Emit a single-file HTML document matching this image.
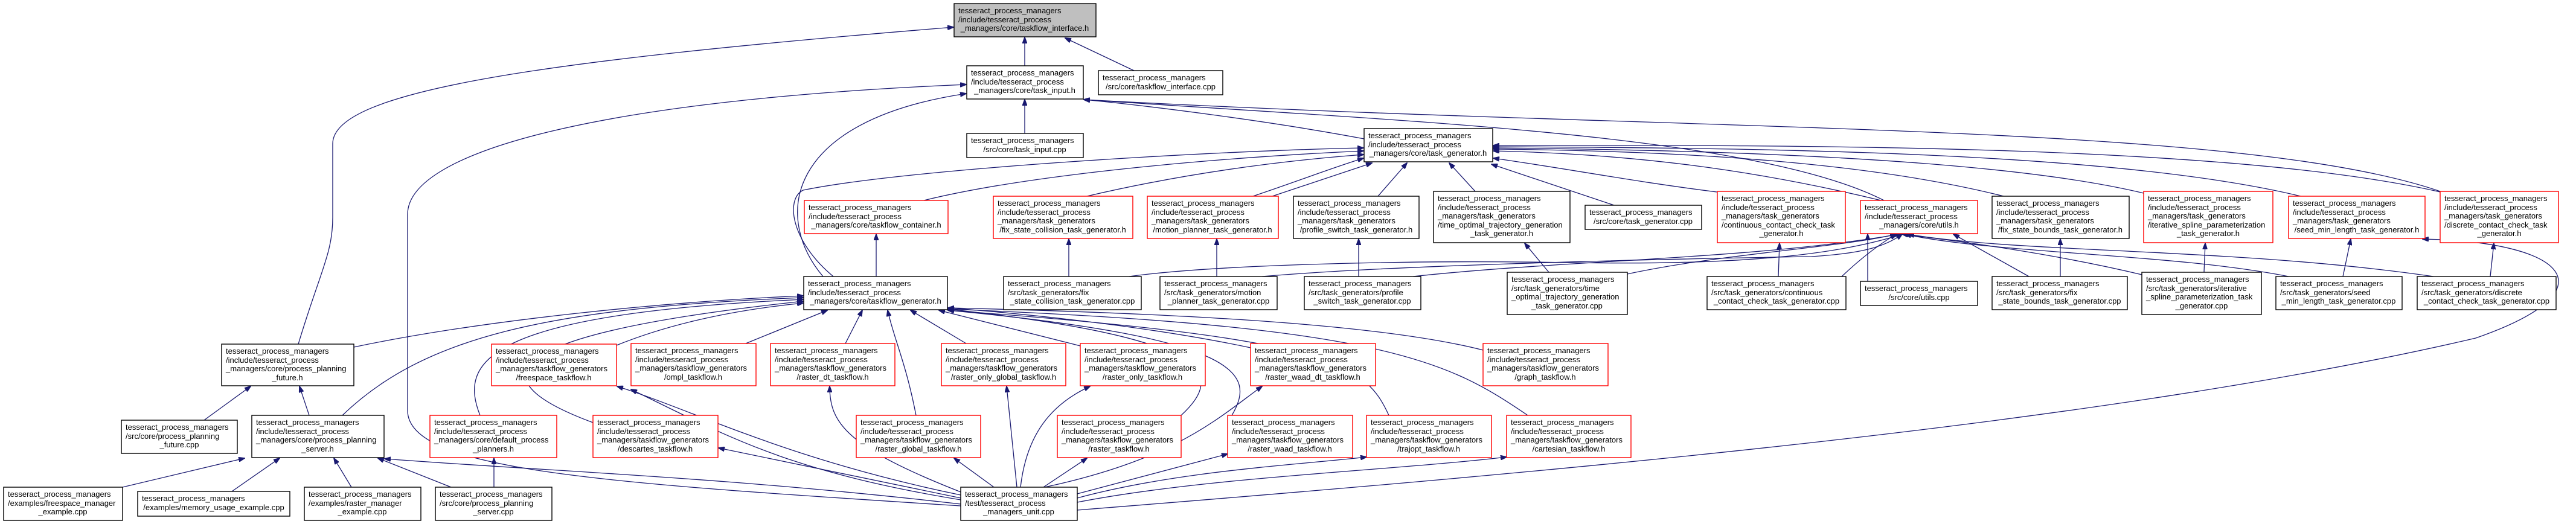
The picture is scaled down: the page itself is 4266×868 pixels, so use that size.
<!DOCTYPE html>
<html><head><meta charset="utf-8"><style>
html,body{margin:0;padding:0;background:#fff}
svg{display:block}
text{font-family:"Liberation Sans",sans-serif;font-size:13px;fill:#000}
.e{fill:none;stroke:#191970;stroke-width:1.3}
.b{fill:#fff;stroke:#000;stroke-width:1.4}
.r{fill:#fff;stroke:#ff0000;stroke-width:1.4}
.g{fill:#bfbfbf;stroke:#000;stroke-width:1.4}
</style></head><body>
<svg width="4266" height="868" viewBox="0 0 4266 868" xmlns="http://www.w3.org/2000/svg">
<defs><marker id="a" markerUnits="userSpaceOnUse" markerWidth="11" markerHeight="8" refX="10" refY="4" orient="auto"><path d="M0,0 L11,4 L0,8 z" fill="#191970" stroke="#191970"/></marker></defs>
<g class="e" marker-end="url(#a)">
<path d="M1697,109 L1697,62"/>
<path d="M1878,117 L1764,63"/>
<path d="M494,570 C530,450 551,420 551,360 L551,238 C551,150 900,100 1579,45"/>
<path d="M1697,221 L1697,165"/>
<path d="M1591,838 C1000,800 675,780 675,680 L675,355 C675,250 1000,165 1600,140"/>
<path d="M1363,458 C1280,360 1300,200 1600,155"/>
<path d="M2259,230 C2100,200 1900,175 1795,165"/>
<path d="M3120,332 C2900,220 2300,200 1795,165"/>
<path d="M4041,317 C3700,200 2800,220 1795,165"/>
<path d="M1380,458 C1310,400 1300,330 1330,315 C1500,280 2000,250 2258,245"/>
<path d="M1530,332 C1700,290 2000,262 2258,250"/>
<path d="M1800,325 C1950,290 2100,268 2258,256"/>
<path d="M2075,325 C2150,300 2200,280 2258,262"/>
<path d="M2107,325 L2272,270"/>
<path d="M2282,325 L2330,270"/>
<path d="M2443,317 L2400,270"/>
<path d="M2673,340 L2470,272"/>
<path d="M2843,318 C2700,300 2600,280 2473,262"/>
<path d="M3115,332 C2900,280 2700,255 2473,250"/>
<path d="M3318,325 C3100,270 2800,250 2473,247"/>
<path d="M3550,320 C3300,260 2800,248 2473,245"/>
<path d="M3810,325 C3500,250 2900,245 2473,243"/>
<path d="M4041,318 C3700,240 3000,240 2473,241"/>
<path d="M1451,458 L1451,388"/>
<path d="M1770,458 L1770,396"/>
<path d="M2015,458 L2015,396"/>
<path d="M2250,458 L2250,396"/>
<path d="M2565,451 L2525,403"/>
<path d="M2945,458 L2947,403"/>
<path d="M3093,466 L3093,388"/>
<path d="M3412,458 L3412,396"/>
<path d="M3650,451 L3652,403"/>
<path d="M3880,458 L3893,396"/>
<path d="M4124,458 L4130,403"/>
<path d="M1870,458 C2000,440 2300,430 2600,435 C2900,440 3050,420 3150,388"/>
<path d="M2090,458 C2300,440 2700,430 3000,425 C3080,420 3120,410 3150,388"/>
<path d="M2340,458 C2600,430 2900,430 3145,388"/>
<path d="M2690,455 C2850,420 3050,410 3140,388"/>
<path d="M3050,458 C3090,420 3120,400 3140,388"/>
<path d="M3360,458 L3235,388"/>
<path d="M3547,455 C3400,420 3250,400 3150,388"/>
<path d="M3790,458 C3600,420 3300,420 3155,388"/>
<path d="M4030,458 C3700,410 3350,420 3160,388"/>
<path d="M586,575 C800,530 1100,500 1330,490"/>
<path d="M567,688 C700,560 900,510 1330,493"/>
<path d="M795,688 C760,600 800,520 1330,496"/>
<path d="M982,700 C820,640 760,560 1330,499"/>
<path d="M1021,572 C1100,540 1200,515 1330,502"/>
<path d="M1235,569 L1370,514"/>
<path d="M1400,569 L1428,514"/>
<path d="M1517,688 C1500,600 1480,560 1470,514"/>
<path d="M1600,569 L1508,514"/>
<path d="M1789,573 L1555,514"/>
<path d="M2071,576 C1900,540 1700,520 1570,510"/>
<path d="M1956,688 C2030,620 2010,560 1570,512"/>
<path d="M2040,688 C2080,620 2060,560 1570,514"/>
<path d="M2300,688 C2260,600 2200,560 1570,514"/>
<path d="M2530,688 C2400,600 2300,540 1570,512"/>
<path d="M2456,580 C2300,540 2000,520 1570,510"/>
<path d="M338,696 L415,640"/>
<path d="M512,688 L496,640"/>
<path d="M203,807 L405,759"/>
<path d="M384,814 L463,759"/>
<path d="M582,807 L553,759"/>
<path d="M747,807 L626,759"/>
<path d="M1591,835 C1200,790 900,780 637,760"/>
<path d="M818,807 L818,759"/>
<path d="M1591,825 L1190,742"/>
<path d="M1646,807 L1580,759"/>
<path d="M1684,807 L1667,640"/>
<path d="M1728,807 L1800,759"/>
<path d="M1784,818 L2033,752"/>
<path d="M1784,825 C1950,780 2150,770 2263,757"/>
<path d="M1784,832 C2000,790 2300,780 2495,757"/>
<path d="M1591,815 C1400,740 1374,700 1374,640"/>
<path d="M1690,807 C1700,720 1740,670 1805,640"/>
<path d="M1730,807 C1950,760 2020,690 2090,640"/>
<path d="M1591,820 C1300,760 1150,680 1022,640"/>
<path d="M1591,828 C1300,780 1200,720 1045,645"/>
<path d="M1784,845 C2600,780 3500,700 4100,560 C4330,480 4250,400 4012,396"/>
</g>
<g class="g"><rect x="1580" y="6" width="235" height="55"/></g>
<g class="b">
<rect x="1601" y="109" width="193" height="55"/>
<rect x="1819" y="117" width="206" height="40"/>
<rect x="1601" y="221" width="193" height="40"/>
<rect x="2259" y="213" width="213" height="55"/>
<rect x="2142" y="325" width="208" height="70"/>
<rect x="2374" y="317" width="226" height="85"/>
<rect x="2625" y="340" width="193" height="40"/>
<rect x="3299" y="325" width="227" height="70"/>
<rect x="1331" y="458" width="238" height="55"/>
<rect x="1662" y="458" width="228" height="55"/>
<rect x="1921" y="458" width="194" height="55"/>
<rect x="2160" y="458" width="193" height="55"/>
<rect x="2496" y="451" width="199" height="70"/>
<rect x="2827" y="458" width="230" height="55"/>
<rect x="3081" y="466" width="194" height="40"/>
<rect x="3299" y="458" width="224" height="55"/>
<rect x="3547" y="451" width="198" height="70"/>
<rect x="3769" y="458" width="209" height="55"/>
<rect x="4003" y="458" width="230" height="55"/>
<rect x="367" y="570" width="219" height="69"/>
<rect x="201" y="696" width="192" height="55"/>
<rect x="417" y="688" width="219" height="70"/>
<rect x="6" y="807" width="197" height="55"/>
<rect x="228" y="814" width="252" height="41"/>
<rect x="504" y="807" width="193" height="55"/>
<rect x="721" y="807" width="193" height="55"/>
<rect x="1591" y="807" width="193" height="55"/>
</g>
<g class="r">
<rect x="1332" y="332" width="238" height="55"/>
<rect x="1645" y="325" width="231" height="70"/>
<rect x="1900" y="325" width="217" height="70"/>
<rect x="2844" y="317" width="212" height="85"/>
<rect x="3081" y="332" width="194" height="55"/>
<rect x="3550" y="317" width="214" height="85"/>
<rect x="3790" y="325" width="226" height="70"/>
<rect x="4041" y="317" width="196" height="85"/>
<rect x="814" y="570" width="207" height="69"/>
<rect x="1045" y="569" width="207" height="70"/>
<rect x="1276" y="569" width="206" height="70"/>
<rect x="1559" y="569" width="206" height="70"/>
<rect x="1789" y="569" width="207" height="70"/>
<rect x="2071" y="569" width="207" height="70"/>
<rect x="2456" y="569" width="207" height="70"/>
<rect x="712" y="688" width="210" height="70"/>
<rect x="982" y="688" width="207" height="70"/>
<rect x="1418" y="688" width="206" height="70"/>
<rect x="1751" y="688" width="205" height="70"/>
<rect x="2033" y="688" width="207" height="70"/>
<rect x="2263" y="688" width="207" height="70"/>
<rect x="2495" y="688" width="206" height="70"/>
</g>
<g>
<text x="1587" y="22">tesseract_process_managers</text><text x="1587" y="37">/include/tesseract_process</text><text x="1697" y="51" text-anchor="middle">_managers/core/taskflow_interface.h</text>
<text x="1608" y="125">tesseract_process_managers</text><text x="1608" y="140">/include/tesseract_process</text><text x="1697" y="154" text-anchor="middle">_managers/core/task_input.h</text>
<text x="1826" y="133">tesseract_process_managers</text><text x="1922" y="148" text-anchor="middle">/src/core/taskflow_interface.cpp</text>
<text x="1608" y="237">tesseract_process_managers</text><text x="1697" y="252" text-anchor="middle">/src/core/task_input.cpp</text>
<text x="2266" y="229">tesseract_process_managers</text><text x="2266" y="244">/include/tesseract_process</text><text x="2365" y="258" text-anchor="middle">_managers/core/task_generator.h</text>
<text x="1339" y="348">tesseract_process_managers</text><text x="1339" y="363">/include/tesseract_process</text><text x="1451" y="377" text-anchor="middle">_managers/core/taskflow_container.h</text>
<text x="1652" y="341">tesseract_process_managers</text><text x="1652" y="356">/include/tesseract_process</text><text x="1652" y="370">_managers/task_generators</text><text x="1760" y="385" text-anchor="middle">/fix_state_collision_task_generator.h</text>
<text x="1907" y="341">tesseract_process_managers</text><text x="1907" y="356">/include/tesseract_process</text><text x="1907" y="370">_managers/task_generators</text><text x="2008" y="385" text-anchor="middle">/motion_planner_task_generator.h</text>
<text x="2149" y="341">tesseract_process_managers</text><text x="2149" y="356">/include/tesseract_process</text><text x="2149" y="370">_managers/task_generators</text><text x="2246" y="385" text-anchor="middle">/profile_switch_task_generator.h</text>
<text x="2381" y="333">tesseract_process_managers</text><text x="2381" y="348">/include/tesseract_process</text><text x="2381" y="362">_managers/task_generators</text><text x="2381" y="377">/time_optimal_trajectory_generation</text><text x="2487" y="391" text-anchor="middle">_task_generator.h</text>
<text x="2632" y="356">tesseract_process_managers</text><text x="2721" y="371" text-anchor="middle">/src/core/task_generator.cpp</text>
<text x="2851" y="333">tesseract_process_managers</text><text x="2851" y="348">/include/tesseract_process</text><text x="2851" y="362">_managers/task_generators</text><text x="2851" y="377">/continuous_contact_check_task</text><text x="2950" y="391" text-anchor="middle">_generator.h</text>
<text x="3088" y="348">tesseract_process_managers</text><text x="3088" y="363">/include/tesseract_process</text><text x="3178" y="377" text-anchor="middle">_managers/core/utils.h</text>
<text x="3306" y="341">tesseract_process_managers</text><text x="3306" y="356">/include/tesseract_process</text><text x="3306" y="370">_managers/task_generators</text><text x="3412" y="385" text-anchor="middle">/fix_state_bounds_task_generator.h</text>
<text x="3557" y="333">tesseract_process_managers</text><text x="3557" y="348">/include/tesseract_process</text><text x="3557" y="362">_managers/task_generators</text><text x="3557" y="377">/iterative_spline_parameterization</text><text x="3657" y="391" text-anchor="middle">_task_generator.h</text>
<text x="3797" y="341">tesseract_process_managers</text><text x="3797" y="356">/include/tesseract_process</text><text x="3797" y="370">_managers/task_generators</text><text x="3903" y="385" text-anchor="middle">/seed_min_length_task_generator.h</text>
<text x="4048" y="333">tesseract_process_managers</text><text x="4048" y="348">/include/tesseract_process</text><text x="4048" y="362">_managers/task_generators</text><text x="4048" y="377">/discrete_contact_check_task</text><text x="4139" y="391" text-anchor="middle">_generator.h</text>
<text x="1338" y="474">tesseract_process_managers</text><text x="1338" y="489">/include/tesseract_process</text><text x="1450" y="503" text-anchor="middle">_managers/core/taskflow_generator.h</text>
<text x="1669" y="474">tesseract_process_managers</text><text x="1669" y="489">/src/task_generators/fix</text><text x="1776" y="503" text-anchor="middle">_state_collision_task_generator.cpp</text>
<text x="1928" y="474">tesseract_process_managers</text><text x="1928" y="489">/src/task_generators/motion</text><text x="2018" y="503" text-anchor="middle">_planner_task_generator.cpp</text>
<text x="2167" y="474">tesseract_process_managers</text><text x="2167" y="489">/src/task_generators/profile</text><text x="2256" y="503" text-anchor="middle">_switch_task_generator.cpp</text>
<text x="2503" y="467">tesseract_process_managers</text><text x="2503" y="482">/src/task_generators/time</text><text x="2503" y="496">_optimal_trajectory_generation</text><text x="2595" y="511" text-anchor="middle">_task_generator.cpp</text>
<text x="2834" y="474">tesseract_process_managers</text><text x="2834" y="489">/src/task_generators/continuous</text><text x="2942" y="503" text-anchor="middle">_contact_check_task_generator.cpp</text>
<text x="3088" y="482">tesseract_process_managers</text><text x="3178" y="497" text-anchor="middle">/src/core/utils.cpp</text>
<text x="3306" y="474">tesseract_process_managers</text><text x="3306" y="489">/src/task_generators/fix</text><text x="3411" y="503" text-anchor="middle">_state_bounds_task_generator.cpp</text>
<text x="3554" y="467">tesseract_process_managers</text><text x="3554" y="482">/src/task_generators/iterative</text><text x="3554" y="496">_spline_parameterization_task</text><text x="3646" y="511" text-anchor="middle">_generator.cpp</text>
<text x="3776" y="474">tesseract_process_managers</text><text x="3776" y="489">/src/task_generators/seed</text><text x="3873" y="503" text-anchor="middle">_min_length_task_generator.cpp</text>
<text x="4010" y="474">tesseract_process_managers</text><text x="4010" y="489">/src/task_generators/discrete</text><text x="4118" y="503" text-anchor="middle">_contact_check_task_generator.cpp</text>
<text x="374" y="586">tesseract_process_managers</text><text x="374" y="601">/include/tesseract_process</text><text x="374" y="615">_managers/core/process_planning</text><text x="476" y="630" text-anchor="middle">_future.h</text>
<text x="821" y="586">tesseract_process_managers</text><text x="821" y="601">/include/tesseract_process</text><text x="821" y="615">_managers/taskflow_generators</text><text x="917" y="630" text-anchor="middle">/freespace_taskflow.h</text>
<text x="1052" y="585">tesseract_process_managers</text><text x="1052" y="600">/include/tesseract_process</text><text x="1052" y="614">_managers/taskflow_generators</text><text x="1148" y="629" text-anchor="middle">/ompl_taskflow.h</text>
<text x="1283" y="585">tesseract_process_managers</text><text x="1283" y="600">/include/tesseract_process</text><text x="1283" y="614">_managers/taskflow_generators</text><text x="1379" y="629" text-anchor="middle">/raster_dt_taskflow.h</text>
<text x="1566" y="585">tesseract_process_managers</text><text x="1566" y="600">/include/tesseract_process</text><text x="1566" y="614">_managers/taskflow_generators</text><text x="1662" y="629" text-anchor="middle">/raster_only_global_taskflow.h</text>
<text x="1796" y="585">tesseract_process_managers</text><text x="1796" y="600">/include/tesseract_process</text><text x="1796" y="614">_managers/taskflow_generators</text><text x="1892" y="629" text-anchor="middle">/raster_only_taskflow.h</text>
<text x="2078" y="585">tesseract_process_managers</text><text x="2078" y="600">/include/tesseract_process</text><text x="2078" y="614">_managers/taskflow_generators</text><text x="2174" y="629" text-anchor="middle">/raster_waad_dt_taskflow.h</text>
<text x="2463" y="585">tesseract_process_managers</text><text x="2463" y="600">/include/tesseract_process</text><text x="2463" y="614">_managers/taskflow_generators</text><text x="2559" y="629" text-anchor="middle">/graph_taskflow.h</text>
<text x="208" y="712">tesseract_process_managers</text><text x="208" y="727">/src/core/process_planning</text><text x="297" y="741" text-anchor="middle">_future.cpp</text>
<text x="424" y="704">tesseract_process_managers</text><text x="424" y="719">/include/tesseract_process</text><text x="424" y="733">_managers/core/process_planning</text><text x="526" y="748" text-anchor="middle">_server.h</text>
<text x="719" y="704">tesseract_process_managers</text><text x="719" y="719">/include/tesseract_process</text><text x="719" y="733">_managers/core/default_process</text><text x="817" y="748" text-anchor="middle">_planners.h</text>
<text x="989" y="704">tesseract_process_managers</text><text x="989" y="719">/include/tesseract_process</text><text x="989" y="733">_managers/taskflow_generators</text><text x="1085" y="748" text-anchor="middle">/descartes_taskflow.h</text>
<text x="1425" y="704">tesseract_process_managers</text><text x="1425" y="719">/include/tesseract_process</text><text x="1425" y="733">_managers/taskflow_generators</text><text x="1521" y="748" text-anchor="middle">/raster_global_taskflow.h</text>
<text x="1758" y="704">tesseract_process_managers</text><text x="1758" y="719">/include/tesseract_process</text><text x="1758" y="733">_managers/taskflow_generators</text><text x="1853" y="748" text-anchor="middle">/raster_taskflow.h</text>
<text x="2040" y="704">tesseract_process_managers</text><text x="2040" y="719">/include/tesseract_process</text><text x="2040" y="733">_managers/taskflow_generators</text><text x="2136" y="748" text-anchor="middle">/raster_waad_taskflow.h</text>
<text x="2270" y="704">tesseract_process_managers</text><text x="2270" y="719">/include/tesseract_process</text><text x="2270" y="733">_managers/taskflow_generators</text><text x="2366" y="748" text-anchor="middle">/trajopt_taskflow.h</text>
<text x="2502" y="704">tesseract_process_managers</text><text x="2502" y="719">/include/tesseract_process</text><text x="2502" y="733">_managers/taskflow_generators</text><text x="2598" y="748" text-anchor="middle">/cartesian_taskflow.h</text>
<text x="13" y="823">tesseract_process_managers</text><text x="13" y="838">/examples/freespace_manager</text><text x="104" y="852" text-anchor="middle">_example.cpp</text>
<text x="235" y="830">tesseract_process_managers</text><text x="354" y="845" text-anchor="middle">/examples/memory_usage_example.cpp</text>
<text x="511" y="823">tesseract_process_managers</text><text x="511" y="838">/examples/raster_manager</text><text x="600" y="852" text-anchor="middle">_example.cpp</text>
<text x="728" y="823">tesseract_process_managers</text><text x="728" y="838">/src/core/process_planning</text><text x="817" y="852" text-anchor="middle">_server.cpp</text>
<text x="1598" y="823">tesseract_process_managers</text><text x="1598" y="838">/test/tesseract_process</text><text x="1687" y="852" text-anchor="middle">_managers_unit.cpp</text>
</g>
</svg>
</body></html>
